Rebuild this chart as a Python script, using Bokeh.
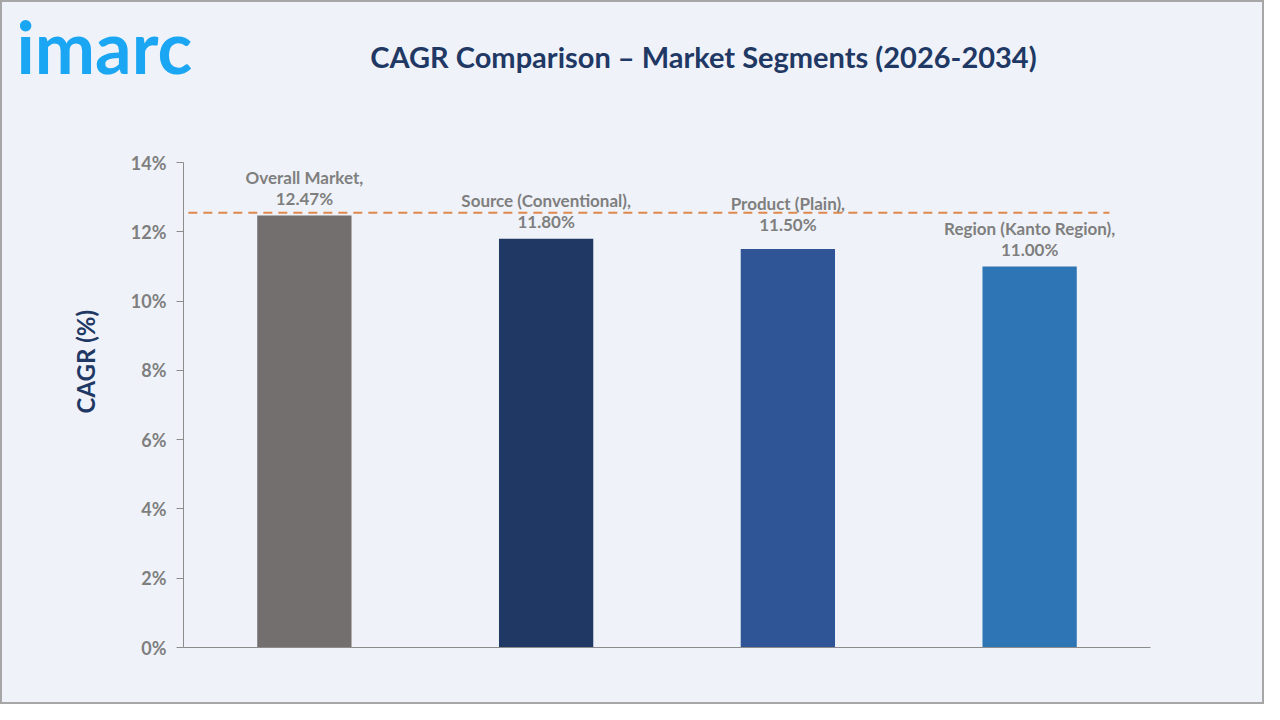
from bokeh.plotting import figure
from bokeh.models import ColumnDataSource, Range1d, FixedTicker, CustomJSTickFormatter
from bokeh.layouts import column, row
from bokeh.embed import file_html
from bokeh.resources import INLINE
from bokeh.core.properties import value
import math

# ---- data ----
categories = ["Overall Market", "Source (Conventional)", "Product (Plain)", "Region (Kanto Region)"]
cagr_values = [12.47, 11.80, 11.50, 11.00]
bar_colors = ["#736f6e", "#1f3864", "#2f5597", "#2e75b6"]
reference_line_value = 12.55
y_ticks = [0, 2, 4, 6, 8, 10, 12, 14]
title_text = "CAGR Comparison \u2013 Market Segments (2026-2034)"
y_axis_title = "CAGR (%)"
logo_text = "imarc"

# ---- styling ----
label_lift_px = [0, 0, 8, 0]   # extra lift of a label so it clears the dashed line
BG = "#eff3f9"
FONT = "Lato"
GRAY = "#7f7f7f"
NAVY = "#1f3864"
AXIS = "#8c8c8c"

TOTAL_W = 1260
HEAD_H = 140
BODY_H = 560
LEFT_W = 110
CHART_W = TOTAL_W - LEFT_W


def blank(width, height):
    f = figure(width=width, height=height, output_backend="svg", toolbar_location=None,
               x_range=Range1d(0, width), y_range=Range1d(0, height),
               x_axis_type=None, y_axis_type=None, min_border=0)
    f.background_fill_color = BG
    f.border_fill_color = BG
    f.outline_line_color = None
    f.grid.visible = False
    return f


# ---- header: logo + title ----
head = blank(TOTAL_W, HEAD_H)
head.text(x=[14], y=[97], text=[logo_text], text_font=value(FONT), text_font_style="bold",
          text_font_size="72px", text_color="#1aa6f2", text_align="left", text_baseline="alphabetic")
head.text(x=[701], y=[86], text=[title_text], text_font=value(FONT), text_font_style="bold",
          text_font_size="29px", text_color=NAVY, text_align="center", text_baseline="middle")

# ---- left strip: y-axis title ----
left = blank(LEFT_W, BODY_H)
left.text(x=[83], y=[330], text=[y_axis_title], angle=math.pi / 2, text_font=value(FONT),
          text_font_style="bold", text_font_size="24px", text_color=NAVY,
          text_align="center", text_baseline="middle")

# ---- chart ----
p = figure(width=CHART_W, height=BODY_H, output_backend="svg", toolbar_location=None,
           x_range=Range1d(0, len(categories)), y_range=Range1d(0, 14),
           min_border_left=71, min_border_right=112, min_border_top=20, min_border_bottom=55)
p.background_fill_color = BG
p.border_fill_color = BG
p.outline_line_color = None
p.grid.visible = False

xs = [i + 0.5 for i in range(len(categories))]
src = ColumnDataSource(dict(
    x=xs, top=cagr_values, color=bar_colors,
    name_lbl=[c + "," for c in categories],
    val_lbl=["%.2f%%" % v for v in cagr_values],
    off_val=[-17 - d for d in label_lift_px],
    off_name=[-38 - d for d in label_lift_px],
))
p.vbar(x="x", top="top", width=0.39, bottom=0, fill_color="color", line_color=None, source=src)

p.segment(x0=[0.02], y0=[reference_line_value], x1=[3.83], y1=[reference_line_value],
          line_color="#e0884c", line_width=2, line_dash="9 6")

common = dict(text_font=value(FONT), text_font_style="bold", text_color=GRAY,
              text_align="center", text_baseline="middle", text_font_size="17px")
p.text(x="x", y="top", text="val_lbl", y_offset="off_val", source=src, **common)
p.text(x="x", y="top", text="name_lbl", y_offset="off_name", source=src, **common)

yax = p.yaxis[0]
yax.ticker = FixedTicker(ticks=y_ticks)
yax.formatter = CustomJSTickFormatter(code="return tick.toFixed(0) + '%';")
yax.major_label_text_font = FONT
yax.major_label_text_font_style = "bold"
yax.major_label_text_font_size = "18px"
yax.major_label_text_color = GRAY
yax.axis_line_color = AXIS
yax.major_tick_line_color = AXIS
yax.major_tick_out = 7
yax.major_tick_in = 0
yax.minor_tick_line_color = None
yax.major_label_standoff = 10

xax = p.xaxis[0]
xax.ticker = FixedTicker(ticks=[])
xax.major_label_text_font_size = "0px"
xax.axis_line_color = AXIS
xax.major_tick_line_color = None
xax.minor_tick_line_color = None

layout = column(head, row(left, p, spacing=0), spacing=0,
                styles={"border": "2px solid #a6a6a6", "background-color": BG})

open("out.html", "w").write(file_html(layout, INLINE))
